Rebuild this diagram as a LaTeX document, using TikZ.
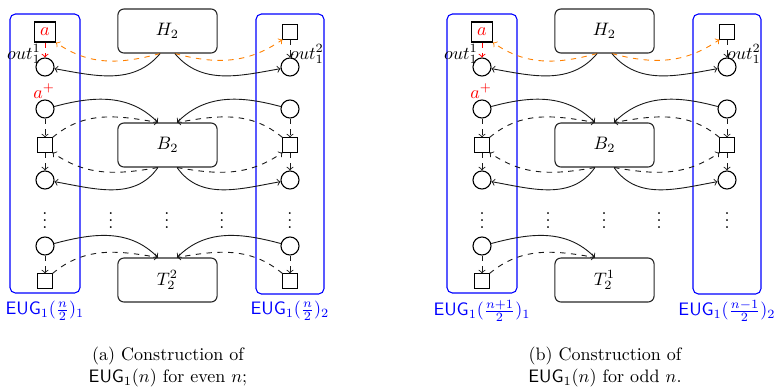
\documentclass[tikz,border=0pt]{standalone}
\usetikzlibrary{arrows}
\begin{document}
\begin{tikzpicture}[x=0.555pt,y=0.555pt,
  sq/.style={draw, line width=0.55pt, minimum size=7.8pt, inner sep=0pt},
  sqa/.style={draw, line width=0.6pt, minimum width=11.6pt, minimum height=11.1pt, inner sep=0pt, text=red},
  cir/.style={draw, semithick, circle, minimum size=10pt, inner sep=0pt},
  big/.style={draw=black!85, semithick, rounded corners=3.3pt, minimum width=55pt, minimum height=24.4pt},
  grp/.style={draw=blue, semithick, rounded corners=3pt},
  grplab/.style={text=blue},
  arr/.style={->, line width=0.5pt, black!90},
  dsh/.style={arr, dashed},
  odsh/.style={->, line width=0.5pt, dashed, orange},
  rdsh/.style={->, line width=0.5pt, dashed, red},
  captext/.style={align=center}
]
\useasboundingbox (0,0) rectangle (774,-387);

% ================= Panel (a) =================
\draw[grp] (10,-14) rectangle (80,-293);
\draw[grp] (256,-14) rectangle (324,-294);

\node[sqa] (Asa) at (45,-32) {$a$};
\node[cir] (Ac1) at (45,-67) {};
\node[cir] (Ac2) at (45,-109) {};
\node[sq]  (As2) at (45,-145) {};
\node[cir] (Ac3) at (45,-180) {};
\node (Ad1) at (45,-215) {$\vdots$};
\node[cir] (Ac4) at (45,-246) {};
\node[sq]  (As3) at (45,-281) {};

\node[sq]  (ARs1) at (290,-32) {};
\node[cir] (ARc1) at (290,-67) {};
\node[cir] (ARc2) at (290,-109) {};
\node[sq]  (ARs2) at (290,-145) {};
\node[cir] (ARc3) at (290,-180) {};
\node (ARd1) at (290,-215) {$\vdots$};
\node[cir] (ARc4) at (290,-246) {};
\node[sq]  (ARs3) at (290,-281) {};

\node[big] (AH) at (167.5,-31) {$H_2$};
\node[big] (AB) at (167.5,-145) {$B_2$};
\node[big] (AT) at (167.5,-280) {$T_2^2$};

\node (Ad2) at (111,-215) {$\vdots$};
\node (Ad3) at (167,-215) {$\vdots$};
\node (Ad4) at (222,-215) {$\vdots$};

\node (Aout1) at (24,-54) {$out^1_1$};
\node (Aout2) at (307,-54) {$out^2_1$};
\node[text=red] (Aap) at (44,-91) {$a^+$};

\node[grplab] (AL1) at (45,-311) {$\mathsf{EUG}_1(\frac{n}{2})_1$};
\node[grplab] (AL2) at (290,-311) {$\mathsf{EUG}_1(\frac{n}{2})_2$};

\node[captext] (Acap) at (168,-367) {(a) Construction of\\ $\mathsf{EUG}_1(n)$ for even $n$;};

\draw[rdsh] (Asa) -- (Ac1);
\draw[dsh] (ARs1) -- (ARc1);
\draw[dsh] (Ac2) -- (As2);
\draw[dsh] (As2) -- (Ac3);
\draw[dsh] (Ac4) -- (As3);
\draw[dsh] (ARc2) -- (ARs2);
\draw[dsh] (ARs2) -- (ARc3);
\draw[dsh] (ARc4) -- (ARs3);

\draw[odsh] (AH.252) to[out=195,in=-35] (Asa.south east);
\draw[odsh] (AH.288) to[out=-15,in=-145] (ARs1.south west);
\draw[arr] (AH.252) to[out=-130,in=-10] (Ac1);
\draw[arr] (AH.288) to[out=-50,in=190] (ARc1);

\draw[arr] (Ac2) to[out=15,in=135] (AB.113);
\draw[dsh] (As2.north east) to[out=40,in=170] (AB.113);
\draw[arr] (ARc2) to[out=165,in=45] (AB.67);
\draw[dsh] (ARs2.north west) to[out=140,in=10] (AB.67);
\draw[dsh] (AB.247) to[out=190,in=-35] (As2.south east);
\draw[arr] (AB.247) to[out=-125,in=-10] (Ac3);
\draw[dsh] (AB.293) to[out=-10,in=-145] (ARs2.south west);
\draw[arr] (AB.293) to[out=-55,in=190] (ARc3);

\draw[arr] (Ac4) to[out=15,in=135] (AT.113);
\draw[dsh] (As3.north east) to[out=40,in=170] (AT.113);
\draw[arr] (ARc4) to[out=165,in=45] (AT.67);
\draw[dsh] (ARs3.north west) to[out=140,in=10] (AT.67);

% ================= Panel (b) =================
\begin{scope}[shift={(437,0)}]
\draw[grp] (10,-14) rectangle (80,-293);
\draw[grp] (256,-14) rectangle (324,-294);

\node[sqa] (Bsa) at (45,-32) {$a$};
\node[cir] (Bc1) at (45,-67) {};
\node[cir] (Bc2) at (45,-109) {};
\node[sq]  (Bs2) at (45,-145) {};
\node[cir] (Bc3) at (45,-180) {};
\node (Bd1) at (45,-215) {$\vdots$};
\node[cir] (Bc4) at (45,-246) {};
\node[sq]  (Bs3) at (45,-281) {};

\node[sq]  (BRs1) at (290,-32) {};
\node[cir] (BRc1) at (290,-67) {};
\node[cir] (BRc2) at (290,-109) {};
\node[sq]  (BRs2) at (290,-145) {};
\node[cir] (BRc3) at (290,-180) {};
\node (BRd1) at (290,-215) {$\vdots$};

\node[big] (BH) at (167.5,-31) {$H_2$};
\node[big] (BB) at (167.5,-145) {$B_2$};
\node[big] (BT) at (167.5,-280) {$T_2^1$};

\node (Bd2) at (111,-215) {$\vdots$};
\node (Bd3) at (167,-215) {$\vdots$};
\node (Bd4) at (222,-215) {$\vdots$};

\node (Bout1) at (24,-54) {$out^1_1$};
\node (Bout2) at (307,-54) {$out^2_1$};
\node[text=red] (Bap) at (44,-91) {$a^+$};

\node[grplab] (BL1) at (45,-311) {$\mathsf{EUG}_1(\frac{n+1}{2})_1$};
\node[grplab] (BL2) at (290,-311) {$\mathsf{EUG}_1(\frac{n-1}{2})_2$};

\node[captext] (Bcap) at (168,-367) {(b) Construction of\\ $\mathsf{EUG}_1(n)$ for odd $n$.};

\draw[rdsh] (Bsa) -- (Bc1);
\draw[dsh] (BRs1) -- (BRc1);
\draw[dsh] (Bc2) -- (Bs2);
\draw[dsh] (Bs2) -- (Bc3);
\draw[dsh] (Bc4) -- (Bs3);
\draw[dsh] (BRc2) -- (BRs2);
\draw[dsh] (BRs2) -- (BRc3);

\draw[odsh] (BH.252) to[out=195,in=-35] (Bsa.south east);
\draw[odsh] (BH.288) to[out=-15,in=-145] (BRs1.south west);
\draw[arr] (BH.252) to[out=-130,in=-10] (Bc1);
\draw[arr] (BH.288) to[out=-50,in=190] (BRc1);

\draw[arr] (Bc2) to[out=15,in=135] (BB.113);
\draw[dsh] (Bs2.north east) to[out=40,in=170] (BB.113);
\draw[arr] (BRc2) to[out=165,in=45] (BB.67);
\draw[dsh] (BRs2.north west) to[out=140,in=10] (BB.67);
\draw[dsh] (BB.247) to[out=190,in=-35] (Bs2.south east);
\draw[arr] (BB.247) to[out=-125,in=-10] (Bc3);
\draw[dsh] (BB.293) to[out=-10,in=-145] (BRs2.south west);
\draw[arr] (BB.293) to[out=-55,in=190] (BRc3);

\draw[arr] (Bc4) to[out=15,in=135] (BT.113);
\draw[dsh] (Bs3.north east) to[out=40,in=170] (BT.113);
\end{scope}
\end{tikzpicture}
\end{document}
